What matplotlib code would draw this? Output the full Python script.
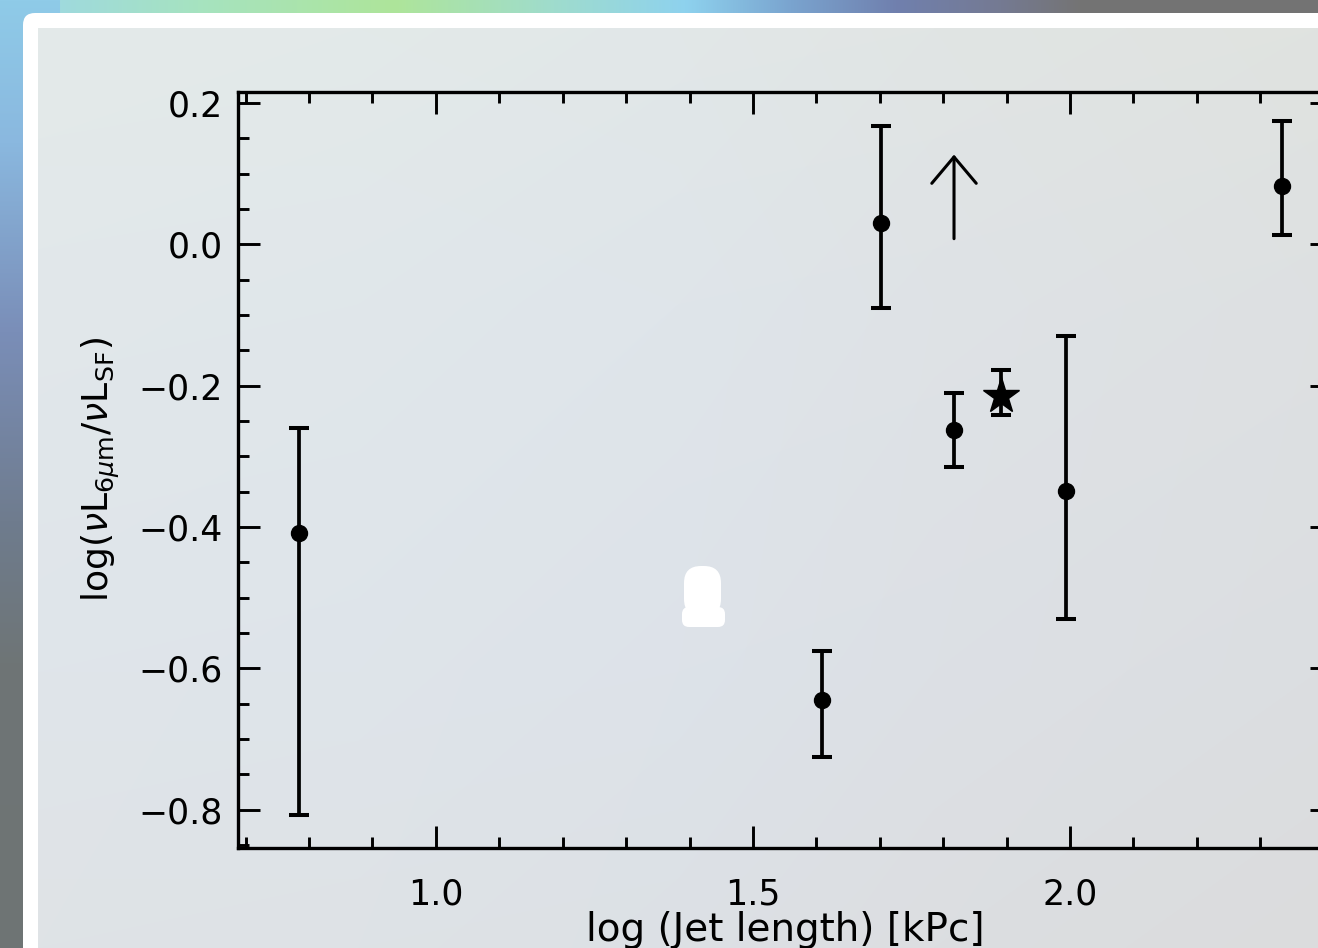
import numpy as np
import matplotlib
matplotlib.use("Agg")
import matplotlib.pyplot as plt
from matplotlib.patches import FancyBboxPatch
from matplotlib.colors import to_rgb
from matplotlib.ticker import MultipleLocator

# ---------------- data ----------------
jet_len = [0.784, 1.609, 1.702, 1.817, 1.994, 2.334]
ratio = [-0.408, -0.644, 0.030, -0.263, -0.349, 0.083]
err_lo = [0.400, 0.081, 0.120, 0.052, 0.181, 0.070]
err_hi = [0.148, 0.069, 0.137, 0.053, 0.219, 0.091]

star_x = [1.891]
star_y = [-0.215]
star_lo = [0.027]
star_hi = [0.037]

limit_x = 1.817
limit_from = 0.008
limit_to = 0.127

xticks = [1.0, 1.5, 2.0]
xticklabels = ["1.0", "1.5", "2.0"]
yticks = [-0.8, -0.6, -0.4, -0.2, 0.0, 0.2]
yticklabels = ["\u22120.8", "\u22120.6", "\u22120.4", "\u22120.2", "0.0", "0.2"]

W, H = 1318, 948
plt.rcParams['font.family'] = ['DejaVu Sans']
plt.rcParams['mathtext.fontset'] = 'dejavusans'
fig = plt.figure(figsize=(W / 100, H / 100), dpi=100)


def grad_h(stops, n):
    xs = np.linspace(0, 1, n)
    pos = [s[0] for s in stops]
    cols = np.array([to_rgb(s[1]) for s in stops])
    return np.stack([np.interp(xs, pos, cols[:, k]) for k in range(3)], axis=-1)

# --- outer background (desktop-like), pixel coordinates ---
bg = fig.add_axes([0, 0, 1, 1])
bg.set_axis_off()
bg.set_xlim(0, W)
bg.set_ylim(H, 0)
img = np.zeros((H, W, 3))
top = grad_h([(0, "#9cd6ea"), (0.15, "#a6e3c0"), (0.3, "#aee59a"), (0.42, "#9fdccd"),
              (0.52, "#8ed2ee"), (0.6, "#7aa4cf"), (0.68, "#7080ae"), (0.76, "#757a92"),
              (0.82, "#747474"), (1, "#737373")], W)
img[:, :, :] = top[None, :, :]
left = grad_h([(0, "#8fcbe8"), (0.15, "#8ab8df"), (0.35, "#7a8eb8"), (0.55, "#6f7c8e"),
               (0.7, "#6e7576"), (1, "#6e7474")], H)
img[:, :60, :] = left[:, None, :]
bg.imshow(img, extent=[0, W, H, 0], aspect='auto', zorder=0)

# white card
card = FancyBboxPatch((23, 13), W + 50, H + 50,
                      boxstyle="round,pad=0,rounding_size=12",
                      facecolor="white", edgecolor="none", zorder=1)
bg.add_patch(card)

# inner panel gradient
px0, py0 = 38, 28
inner_w, inner_h = W - px0, H - py0
row = grad_h([(0, "#e2e8ec"), (0.25, "#e0e7ec"), (0.5, "#dde3ea"), (0.7, "#dcdee2"),
              (1, "#dadada")], inner_w)
col = grad_h([(0, "#e6ece6"), (0.3, "#e1e7ea"), (0.7, "#dde2e8"), (1, "#dcdee0")], inner_h)
inner = 0.5 * row[None, :, :] + 0.5 * col[:, None, :]
bg.imshow(inner, extent=[px0, W, H, py0], aspect='auto', zorder=2)

# small white blob (background element)
blob_top = FancyBboxPatch((684, 566), 37, 50,
                          boxstyle="round,pad=0,rounding_size=17",
                          facecolor="white", edgecolor="none", zorder=3)
blob_bot = FancyBboxPatch((682, 607), 43, 20,
                          boxstyle="round,pad=0,rounding_size=7",
                          facecolor="white", edgecolor="none", zorder=3)
bg.add_patch(blob_top)
bg.add_patch(blob_bot)
bg.set_xlim(0, W)
bg.set_ylim(H, 0)

# ---------------- main axes ----------------
ax = fig.add_axes([238 / W, 1 - 848 / H, (1332 - 238) / W, (848 - 92) / H])
ax.patch.set_alpha(0)
ax.set_xlim(0.688, 2.413)
ax.set_ylim(-0.854, 0.2155)

ax.errorbar(jet_len, ratio, yerr=[err_lo, err_hi], fmt='o', color='black',
            markersize=11.5, elinewidth=2.7, capsize=7, capthick=2.9, zorder=5)
ax.errorbar(star_x, star_y, yerr=[star_lo, star_hi], fmt='*', color='black',
            markersize=27, elinewidth=2.7, capsize=7, capthick=2.9, zorder=5)
ax.annotate("", xy=(limit_x, limit_to), xytext=(limit_x, limit_from),
            arrowprops=dict(arrowstyle="->,head_length=0.95,head_width=0.8",
                            color="black", lw=2.2, mutation_scale=20,
                            shrinkA=0, shrinkB=0), zorder=5)

ax.set_xticks(xticks)
ax.set_xticklabels(xticklabels)
ax.set_yticks(yticks)
ax.set_yticklabels(yticklabels)
ax.xaxis.set_minor_locator(MultipleLocator(0.1))
ax.yaxis.set_minor_locator(MultipleLocator(0.05))
ax.tick_params(which='both', direction='in', top=True, right=True, width=2.1,
               labelsize=25, colors='black')
ax.tick_params(which='major', length=15.5, pad=11)
ax.tick_params(which='minor', length=8)
ax.tick_params(axis='x', which='major', pad=21)
for sp in ax.spines.values():
    sp.set_linewidth(2.4)

ax.set_xlabel("log (Jet length) [kPc]", fontsize=28, labelpad=0)
ax.set_ylabel(r"$\mathrm{log}(\nu\mathrm{L}_{6\mu\mathrm{m}}/\nu\mathrm{L}_{\mathrm{SF}})$",
              fontsize=26, labelpad=12)

fig.savefig("out.png", dpi=100)
